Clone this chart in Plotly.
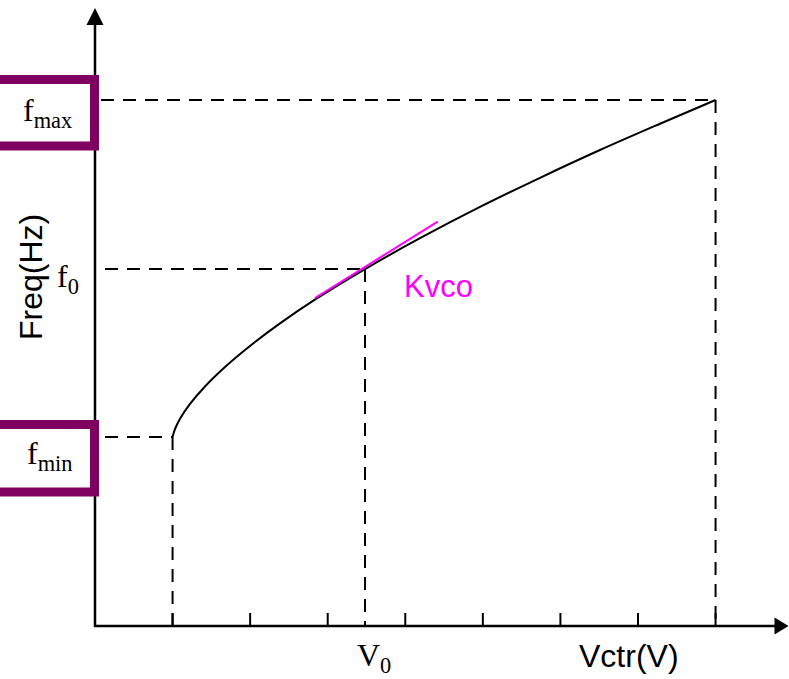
import plotly.graph_objects as go

# ---------------- data ----------------
x_ticks = [1, 2, 3, 4, 5, 6, 7, 8]
v_ctr = [1.000, 1.031, 1.096, 1.225, 1.418, 1.676, 1.998, 2.385, 2.849,
         3.481, 4.190, 4.963, 5.737, 6.510, 7.284, 8.000]
freq = [2.437, 2.538, 2.672, 2.863, 3.088, 3.339, 3.610, 3.901, 4.216,
        4.602, 4.999, 5.402, 5.778, 6.136, 6.475, 6.781]
v_min, v0, v_max = 1.0, 3.481, 8.0
f_min, f0, f_max = 2.437, 4.602, 6.781
kvco_v = [2.836, 4.418]
kvco_f = [4.228, 5.212]

# ---------------- geometry helpers ----------------
S = 77.57                      # pixels per data unit
W, H = 789, 679
ORX, ORY = 95, 626             # pixel position of the origin
def dx(p): return p / S        # pixel length -> data length

x_range = [-ORX / S, (W - ORX) / S]
y_range = [-(H - ORY) / S, ORY / S]

PURPLE = "#80005F"
MAGENTA = "#FF00FF"

fig = go.Figure()

# curve
fig.add_trace(go.Scatter(x=v_ctr, y=freq, mode="lines",
                         line=dict(color="black", width=2, shape="spline", smoothing=1.0),
                         hoverinfo="skip"))
# Kvco tangent
fig.add_trace(go.Scatter(x=kvco_v, y=kvco_f, mode="lines",
                         line=dict(color=MAGENTA, width=2), hoverinfo="skip"))

# dashed guide lines
dash = "13px,9px"
def dline(x0, y0, x1, y1):
    fig.add_shape(type="line", x0=x0, y0=y0, x1=x1, y1=y1,
                  line=dict(color="black", width=2, dash=dash), layer="below")

dline(dx(6), f_max, v_max, f_max)
dline(v_max, f_max, v_max, 0)
dline(dx(10), f0, v0, f0)
dline(v0, f0, v0, 0)
dline(dx(10), f_min, v_min, f_min)
dline(v_min, f_min, v_min, 0)

# x-axis ticks
tx, ty = [], []
for t in x_ticks:
    tx += [t, t, None]
    ty += [0, dx(13), None]
fig.add_trace(go.Scatter(x=tx, y=ty, mode="lines",
                         line=dict(color="black", width=2), hoverinfo="skip"))

# axes lines
fig.add_shape(type="line", x0=0, y0=-dx(1), x1=0, y1=y_range[1] - dx(24),
              line=dict(color="black", width=2.5))
fig.add_shape(type="line", x0=-dx(1), y0=0, x1=x_range[1] - dx(14), y1=0,
              line=dict(color="black", width=2.5))
# arrow heads
ytop = y_range[1] - dx(8)
fig.add_shape(type="path",
              path=f"M {-dx(8.5)},{ytop - dx(17)} L {dx(8.5)},{ytop - dx(17)} L 0,{ytop} Z",
              fillcolor="black", line=dict(color="black", width=0))
xr = x_range[1] - dx(0.5)
fig.add_shape(type="path",
              path=f"M {xr - dx(14)},{dx(8.5)} L {xr - dx(14)},{-dx(8.5)} L {xr},0 Z",
              fillcolor="black", line=dict(color="black", width=0))

# purple boxes (drawn over the y axis)
def box(top_px, bot_px):
    fig.add_shape(type="rect", x0=x_range[0] - dx(20), x1=-dx(0.5),
                  y0=(ORY - bot_px) / S, y1=(ORY - top_px) / S,
                  line=dict(color=PURPLE, width=9), fillcolor="white")
box(79.5, 146)
box(424.5, 492)

# text
serif = "Liberation Serif"
sans = "Liberation Sans"
def ann(x, y, text, size, family, color="black", angle=0):
    fig.add_annotation(x=x, y=y, text=text, showarrow=False, textangle=angle,
                       font=dict(size=size, family=family, color=color),
                       xanchor="center", yanchor="middle")

ann(dx(47 - ORX), (ORY - 112) / S, "f<sub>max</sub>", 32, serif)
ann(dx(68 - ORX), (ORY - 278) / S, "f<sub>0</sub>", 32, serif)
ann(dx(50 - ORX), (ORY - 455) / S, "f<sub>min</sub>", 32, serif)
ann(v0 + dx(9), (ORY - 657) / S, "V<sub>0</sub>", 32, serif)
ann(dx(629 - ORX), (ORY - 656) / S, "Vctr(V)", 32, sans)
ann(dx(31 - ORX), (ORY - 277) / S, "Freq(Hz)", 32, sans, angle=-90)
ann(dx(438 - ORX), (ORY - 286) / S, "Kvco", 31, sans, color=MAGENTA)

fig.update_layout(
    width=W, height=H, margin=dict(l=0, r=0, t=0, b=0),
    paper_bgcolor="white", plot_bgcolor="white", showlegend=False,
    xaxis=dict(range=x_range, visible=False, fixedrange=True),
    yaxis=dict(range=y_range, visible=False, fixedrange=True),
)

fig.write_html("out.html", post_script="document.body.style.margin='0';",
               config={"displayModeBar": False})
